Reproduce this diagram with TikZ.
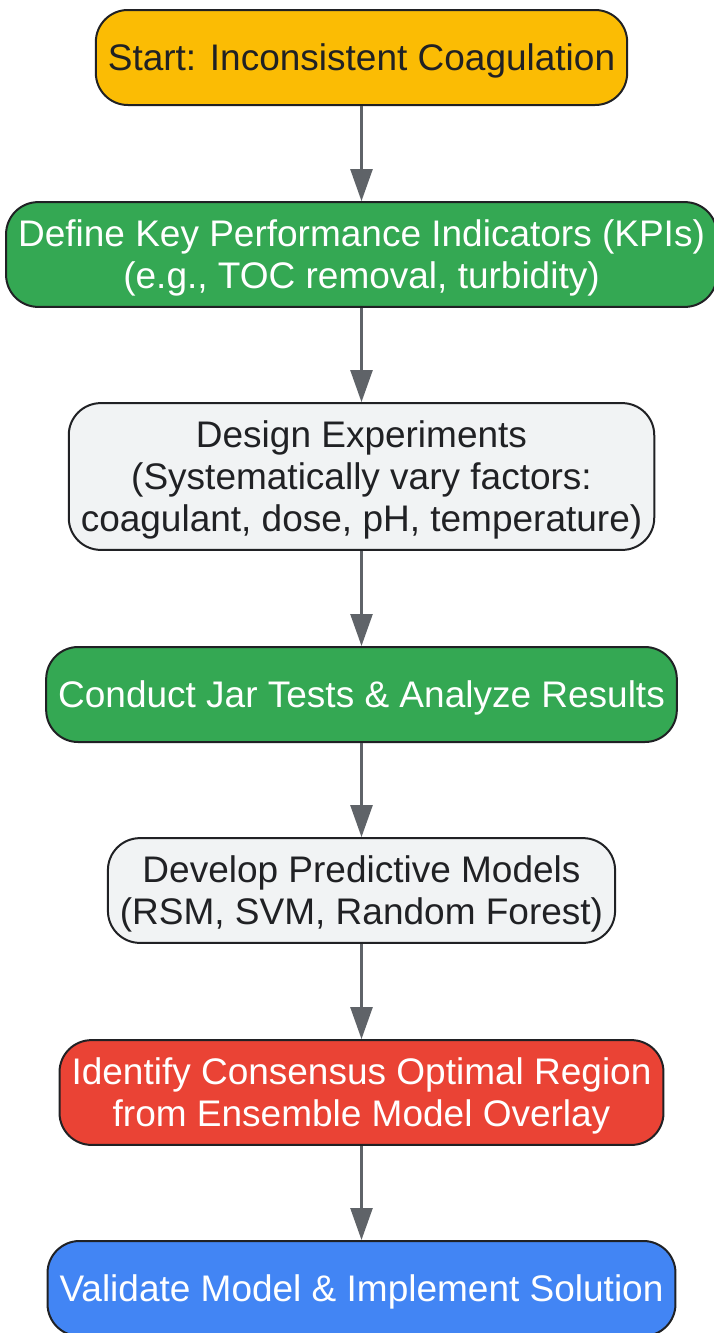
\documentclass[tikz,border=0pt]{standalone}
\usepackage{fontspec}
\setmainfont{Liberation Sans}
\usetikzlibrary{arrows.meta}

\definecolor{startyellow}{HTML}{FBBC04}
\definecolor{stepgreen}{HTML}{34A853}
\definecolor{stepgray}{HTML}{F1F3F4}
\definecolor{stepred}{HTML}{EA4335}
\definecolor{stepblue}{HTML}{4285F4}
\definecolor{boxline}{HTML}{202124}
\definecolor{arrowgray}{HTML}{5F6368}

\begin{document}
\begin{tikzpicture}[x = 1pt, y = -1pt,
                    every node/.style = {shape = rectangle, draw = boxline,
                      line width = 2pt, rounded corners = 32pt, align = center,
                      inner xsep = 12pt, inner ysep = 10.7pt,
                      minimum height = 95pt, text height = 33.7pt,
                      font = \fontsize{37}{42}\selectfont},
                    twolines/.style = {text height = 75.7pt},
                    threelines/.style = {text height = 117.7pt},
                    dark/.style = {text = boxline},
                    light/.style = {text = white},
                    link/.style = {draw = arrowgray, line width = 2.5pt,
                      -{Triangle[length = 32pt, width = 22pt]}}]
      \useasboundingbox (0, 0) rectangle (713, 1333);

      \node [fill = startyellow, dark] (start) at (361.5, 57.5)
            {Start: Inconsistent Coagulation};
      \node [fill = stepgreen, light, twolines] (kpi) at (361.5, 254.5)
            {Define Key Performance Indicators (KPIs)\\(e.g., TOC removal, turbidity)};
      \node [fill = stepgray, dark, threelines] (design) at (361.5, 476.5)
            {Design Experiments\\(Systematically vary factors:\\coagulant, dose, pH, temperature)};
      \node [fill = stepgreen, light] (jar) at (361.5, 694.5)
            {Conduct Jar Tests \& Analyze Results};
      \node [fill = stepgray, dark, twolines] (models) at (361.5, 890.5)
            {Develop Predictive Models\\(RSM, SVM, Random Forest)};
      \node [fill = stepred, light, twolines] (region) at (361.5, 1092.5)
            {Identify Consensus Optimal Region\\from Ensemble Model Overlay};
      \node [fill = stepblue, light] (validate) at (361.5, 1288.5)
            {Validate Model \& Implement Solution};

      \draw [link] (start) -- (kpi);
      \draw [link] (kpi) -- (design);
      \draw [link] (design) -- (jar);
      \draw [link] (jar) -- (models);
      \draw [link] (models) -- (region);
      \draw [link] (region) -- (validate);
\end{tikzpicture}
\end{document}
